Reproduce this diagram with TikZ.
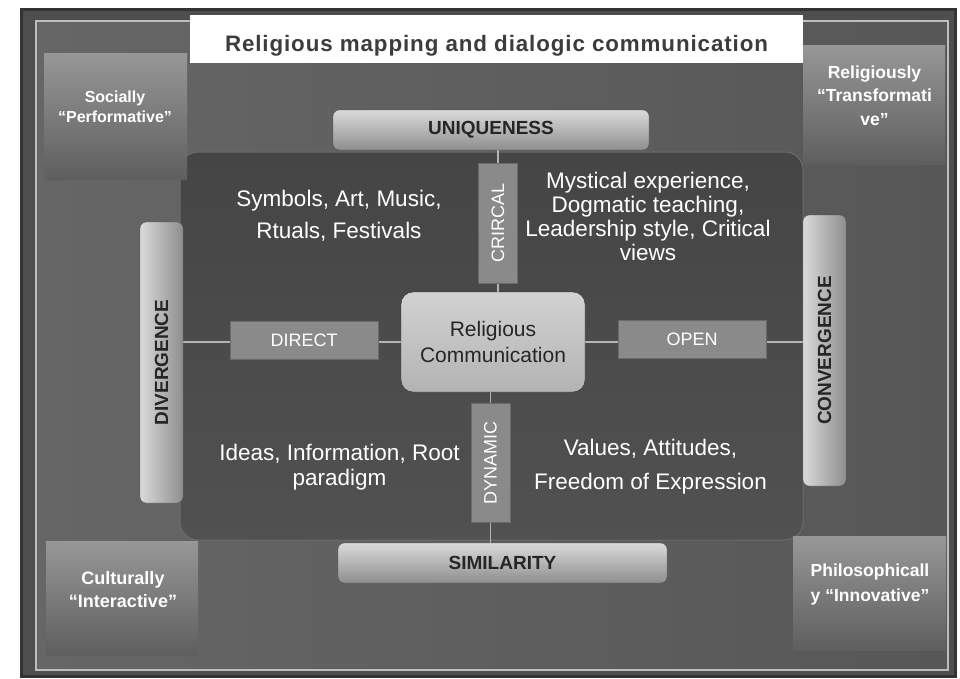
\documentclass[tikz,border=0pt]{standalone}
\usepackage{fontspec}
\usepackage{graphicx}
\setmainfont{Liberation Sans}
\newfontfamily\titlefont[LetterSpace=4]{Liberation Sans}
\usetikzlibrary{shapes.misc,backgrounds}
\pgfdeclarelayer{lines}
\pgfsetlayers{background,lines,main}
\definecolor{framedark}{HTML}{333333}
\definecolor{frameband}{HTML}{4E4E4E}
\definecolor{bgl}{HTML}{666666}
\definecolor{bgr}{HTML}{575757}
\definecolor{innerline}{HTML}{BDBDBD}
\definecolor{paneltop}{HTML}{454545}
\definecolor{panelbot}{HTML}{515151}
\definecolor{panelline}{HTML}{6C6C6C}
\definecolor{cbtop}{HTML}{979797}
\definecolor{cbbot}{HTML}{5E5E5E}
\definecolor{barlight}{HTML}{DADADA}
\definecolor{bardark}{HTML}{8E8E8E}
\definecolor{barline}{HTML}{505050}
\definecolor{bartext}{HTML}{262626}
\definecolor{tagfill}{HTML}{8A8A8A}
\definecolor{tagline}{HTML}{6A6A6A}
\definecolor{rctop}{HTML}{D2D2D2}
\definecolor{rcbot}{HTML}{B3B3B3}
\definecolor{rcline}{HTML}{2E2E2E}
\definecolor{conncol}{HTML}{B4B4B4}
\definecolor{titlecol}{HTML}{3C3C3C}
\tikzset{
  cornerbox/.style={chamfered rectangle, chamfered rectangle corners=south east,
    chamfered rectangle xsep=12pt, chamfered rectangle ysep=12pt,
    top color=cbtop, bottom color=cbbot, draw=none, inner sep=0pt},
  cornertext/.style={text=white, align=center, inner sep=0pt},
  bar/.style={rectangle, rounded corners=6pt, draw=barline, inner sep=0pt,
    font=\bfseries\fontsize{19}{22}\selectfont, text=bartext},
  hbar/.style={bar, top color=barlight, bottom color=bardark},
  vbar/.style={bar, left color=barlight, right color=bardark},
  tagbox/.style={rectangle, fill=tagfill, draw=tagline, text=white, inner sep=0pt,
    font=\fontsize{18}{20}\selectfont},
  rcbox/.style={rectangle, rounded corners=12pt, top color=rctop, bottom color=rcbot,
    draw=rcline, text=bartext, align=center, inner sep=0pt,
    font=\fontsize{21}{26}\selectfont},
  paneltext/.style={text=white, align=center, inner sep=0pt},
  titlebox/.style={rectangle, fill=white, draw=none, inner sep=0pt},
  conn/.style={draw=conncol, line width=1.6pt}
}
\begin{document}
\begin{tikzpicture}[x=1pt,y=-1pt]
\useasboundingbox (0,0) rectangle (960,678);
\begin{pgfonlayer}{background}
\fill[white] (0,0) rectangle (960,678);
\fill[framedark] (20,8) rectangle (957,678);
\fill[frameband] (23,11) rectangle (954,675);
\draw[innerline, line width=1.3pt, left color=bgl, right color=bgr] (36,21) rectangle (948,670);
\draw[panelline, line width=1pt, top color=paneltop, bottom color=panelbot, rounded corners=18pt] (180,152) rectangle (803,540);
\end{pgfonlayer}

% title
\node[titlebox, minimum width=613pt, minimum height=48pt] (title) at (496.5,39) {};
\node[text=titlecol, inner sep=0pt] (titletext) at (496.5,46)
  {\resizebox{543pt}{!}{\titlefont\bfseries\fontsize{22}{24}\selectfont Religious mapping and dialogic communication}};

% corner boxes
\node[cornerbox, minimum width=143pt, minimum height=127pt] (tl) at (115.5,116.5) {};
\node[cornertext, font=\bfseries\fontsize{16}{20}\selectfont] (tlt) at (115,107) {Socially\\“Performative”};
\node[cornerbox, minimum width=142pt, minimum height=120pt] (tr) at (874,105) {};
\node[cornertext, font=\bfseries\fontsize{17.5}{23.5}\selectfont] (trt) at (874.5,95.5) {Religiously\\“Transformati\\ve”};
\node[cornerbox, minimum width=152pt, minimum height=115pt] (bl) at (122,598.5) {};
\node[cornertext, font=\bfseries\fontsize{18}{23}\selectfont] (blt) at (123,589.5) {Culturally\\“Interactive”};
\node[cornerbox, minimum width=153pt, minimum height=115pt] (br) at (869.5,593.5) {};
\node[cornertext, font=\bfseries\fontsize{17.5}{25}\selectfont] (brt) at (870,584) {Philosophicall\\y “Innovative”};

% bars
\node[hbar, minimum width=316pt, minimum height=40pt] (uniq) at (491,130) {UNIQUENESS};
\node[hbar, minimum width=329pt, minimum height=40pt] (sim) at (502.5,563) {SIMILARITY};
\node[vbar, minimum width=43pt, minimum height=281pt] (div) at (161.5,362.5) {\rotatebox{90}{DIVERGENCE}};
\node[vbar, minimum width=43pt, minimum height=271pt] (conv) at (824.5,350.5) {\rotatebox{90}{CONVERGENCE}};

% tags and centre
\node[tagbox, minimum width=39pt, minimum height=120pt] (crit) at (498,223) {\rotatebox{90}{CRIRCAL}};
\node[tagbox, minimum width=39pt, minimum height=119pt] (dyn) at (490.5,462.5) {\rotatebox{90}{DYNAMIC}};
\node[tagbox, minimum width=148pt, minimum height=38pt] (direct) at (304,340) {DIRECT};
\node[tagbox, minimum width=148pt, minimum height=38pt] (open) at (692,339) {OPEN};
\node[rcbox, minimum width=184pt, minimum height=100pt] (rc) at (493,342) {Religious\\Communication};

% connectors
\begin{pgfonlayer}{lines}
\draw[conn] (div.east |- rc.center) -- (rc.west);
\draw[conn] (rc.east) -- (conv.west |- rc.center);
\draw[conn] (uniq.south -| crit.center) -- (rc.north -| crit.center);
\draw[conn] (rc.south -| dyn.center) -- (sim.north -| dyn.center);
\end{pgfonlayer}

% quadrant texts
\node[paneltext, font=\fontsize{22.5}{32}\selectfont] (sym) at (339,216) {Symbols, Art, Music,\\Rtuals, Festivals};
\node[paneltext, font=\fontsize{22.5}{23.7}\selectfont] (myst) at (648,216.5) {Mystical experience,\\Dogmatic teaching,\\Leadership style, Critical\\views};
\node[paneltext, font=\fontsize{22.5}{25}\selectfont] (ideas) at (339.5,467.5) {Ideas, Information, Root\\paradigm};
\node[paneltext, font=\fontsize{22.5}{34}\selectfont] (vals) at (650.5,467) {Values, Attitudes,\\Freedom of Expression};
\end{tikzpicture}
\end{document}
